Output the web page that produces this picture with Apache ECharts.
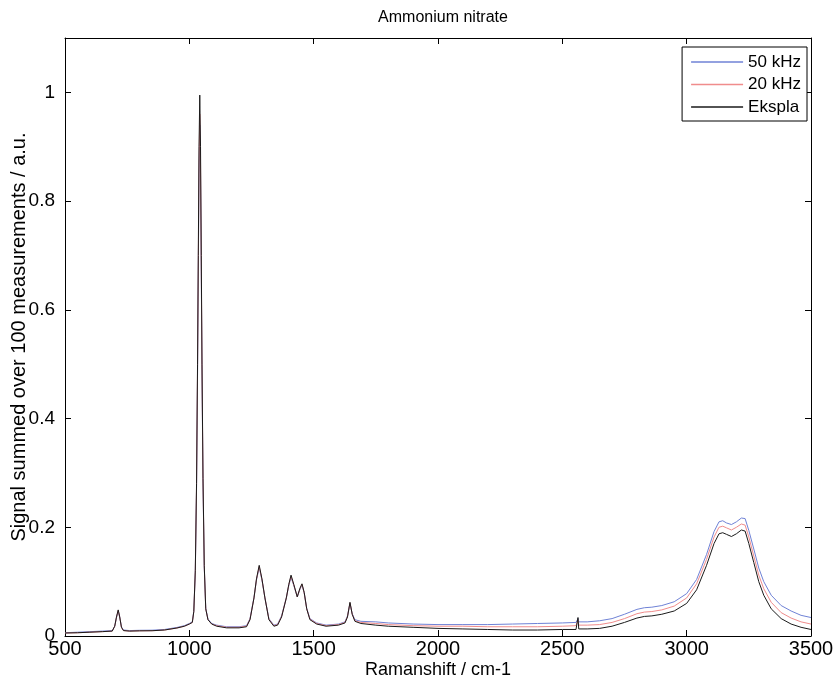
<!DOCTYPE html>
<html>
<head>
<meta charset="utf-8">
<script src="https://cdn.jsdelivr.net/npm/echarts@6/dist/echarts.min.js"></script>
<style>
  html, body { margin: 0; padding: 0; background: #fff; }
  #spectrum { width: 835px; height: 683px; }
</style>
</head>
<body>
<div id="spectrum"></div>
<script>
let shifts = [500, 550, 600, 650, 690, 700, 707, 714, 720, 727,
    735, 760, 800, 850, 900, 950, 980, 1000, 1012, 1018,
    1024, 1029, 1033, 1036, 1039, 1042, 1045, 1048, 1051, 1055,
    1060, 1066, 1075, 1090, 1110, 1150, 1200, 1230, 1244, 1260,
    1270, 1281, 1292, 1304, 1320, 1340, 1355, 1371, 1390, 1400,
    1409, 1420, 1434, 1445, 1453, 1462, 1472, 1485, 1512, 1550,
    1600, 1626, 1636, 1646, 1655, 1666, 1690, 1750, 1800, 1900,
    2000, 2100, 2200, 2300, 2400, 2500, 2555, 2560, 2563, 2566,
    2600, 2650, 2700, 2750, 2800, 2830, 2860, 2900, 2950, 3000,
    3040, 3080, 3110, 3130, 3145, 3160, 3180, 3200, 3220, 3235,
    3250, 3270, 3290, 3310, 3340, 3380, 3420, 3460, 3500]

let eksplaVals = [.0055, .006, .007, .008, .009, .018, .035, .048, .035, .016,
    .01, .009, .0095, .0097, .011, .0147, .018, .022, .025, .045,
    .12, .28, .5, .7, .9, .995, .9, .7, .5, .29,
    .13, .05, .03, .022, .018, .015, .015, .017, .03, .07,
    .105, .13, .105, .07, .03, .018, .02, .035, .07, .095,
    .112, .095, .072, .088, .096, .08, .05, .03, .022, .018,
    .02, .024, .035, .062, .04, .027, .023, .02, .018, .016,
    .014, .013, .012, .011, .011, .012, .012, .013, .034, .013,
    .013, .014, .018, .025, .033, .036, .037, .04, .046, .06,
    .085, .13, .17, .188, .19, .187, .183, .188, .195, .193,
    .17, .135, .1, .075, .05, .032, .022, .016, .012]

let khz20Vals = [.0055, .006, .007, .008, .009, .018, .034, .047, .035, .016,
    .01, .009, .0095, .0097, .011, .0147, .018, .022, .025, .045,
    .118, .275, .49, .68, .87, .96, .87, .68, .49, .285,
    .128, .05, .03, .022, .019, .016, .016, .018, .031, .07,
    .104, .128, .104, .07, .031, .019, .021, .036, .07, .094,
    .11, .094, .072, .087, .095, .079, .05, .031, .023, .019,
    .021, .025, .036, .061, .04, .028, .025, .023, .021, .019,
    .018, .018, .017, .017, .017, .018, .019, .02, .03, .02,
    .02, .021, .025, .032, .041, .044, .045, .048, .055, .07,
    .096, .141, .182, .2, .202, .199, .195, .2, .206, .204,
    .182, .147, .112, .087, .062, .043, .033, .026, .022]

let khz50Vals = [.006, .007, .008, .009, .01, .018, .034, .046, .035, .017,
    .011, .01, .0105, .0107, .012, .0157, .019, .023, .026, .046,
    .117, .27, .48, .67, .85, .94, .85, .67, .48, .28,
    .127, .051, .031, .023, .02, .017, .017, .019, .032, .071,
    .103, .126, .103, .07, .032, .02, .022, .037, .07, .093,
    .108, .093, .072, .086, .094, .079, .051, .032, .024, .02,
    .022, .026, .037, .06, .041, .03, .027, .026, .024, .022,
    .021, .021, .021, .022, .023, .024, .025, .026, .032, .026,
    .026, .028, .032, .04, .049, .052, .053, .056, .063, .078,
    .104, .15, .192, .21, .212, .208, .205, .21, .217, .216,
    .194, .16, .125, .1, .075, .056, .046, .038, .034]

let seriesNames = ['50 kHz', '20 kHz', 'Ekspla']
let seriesColors = ['#6f82d6', '#f08c8c', '#1a1a1a']

function pairs(vals) {
    return shifts.map(function (s, i) { return [s, vals[i]] })
}

let myChart = echarts.init(document.getElementById('spectrum'))
let font = 'Liberation Sans, Arial, sans-serif'

function boxAxis(extra) {
    let base = {
        type: 'value',
        axisLine: {show: true, onZero: false, lineStyle: {color: '#000', width: 1}},
        axisTick: {show: true, inside: true, length: 6, lineStyle: {color: '#000'}},
        splitLine: {show: false}
    }
    return Object.assign(base, extra)
}

let option = {
    animation: false,
    backgroundColor: '#fff',
    title: {
        text: 'Ammonium nitrate',
        left: 438,
        textAlign: 'center',
        top: 5,
        textStyle: {fontFamily: font, fontSize: 16, fontWeight: 'normal', color: '#000'}
    },
    legend: {
        orient: 'vertical',
        right: 28,
        top: 47,
        data: seriesNames,
        icon: 'rect',
        backgroundColor: '#fff',
        borderColor: '#000',
        borderWidth: 1,
        padding: [6, 6, 5, 9],
        itemWidth: 52,
        itemHeight: 1.5,
        itemGap: 4.5,
        textStyle: {fontFamily: font, fontSize: 17, lineHeight: 18, color: '#000'}
    },
    grid: {left: 65, right: 24, top: 38, bottom: 47, outerBoundsMode: 'none', containLabel: false},
    xAxis: [
        boxAxis({
            min: 500, max: 3500, interval: 500,
            name: 'Ramanshift / cm-1', nameLocation: 'middle', nameGap: 25, nameMoveOverlap: false,
            nameTextStyle: {fontFamily: font, fontSize: 18, color: '#000'},
            axisLabel: {fontFamily: font, fontSize: 20, color: '#000', margin: 3,
                formatter: function (v) { return String(v) }}
        }),
        boxAxis({
            min: 500, max: 3500, interval: 500, position: 'top',
            axisLabel: {show: false}
        })
    ],
    yAxis: [
        boxAxis({
            min: 0, max: 1.1, interval: 0.2,
            name: 'Signal summed over 100 measurements / a.u.', nameLocation: 'middle', nameGap: 36,
            nameMoveOverlap: false,
            nameTextStyle: {fontFamily: font, fontSize: 20, color: '#000'},
            axisLabel: {fontFamily: font, fontSize: 19, color: '#000', margin: 10, showMaxLabel: false}
        }),
        boxAxis({
            min: 0, max: 1.1, interval: 0.2, position: 'right',
            axisLabel: {show: false}
        })
    ],
    series: [
        {name: seriesNames[0], type: 'line', symbol: 'none', data: pairs(khz50Vals),
            lineStyle: {color: seriesColors[0], width: 1}, itemStyle: {color: seriesColors[0]}},
        {name: seriesNames[1], type: 'line', symbol: 'none', data: pairs(khz20Vals),
            lineStyle: {color: seriesColors[1], width: 1}, itemStyle: {color: seriesColors[1]}},
        {name: seriesNames[2], type: 'line', symbol: 'none', data: pairs(eksplaVals),
            lineStyle: {color: seriesColors[2], width: 1}, itemStyle: {color: seriesColors[2]}}
    ]
}

myChart.setOption(option)
</script>
</body>
</html>
